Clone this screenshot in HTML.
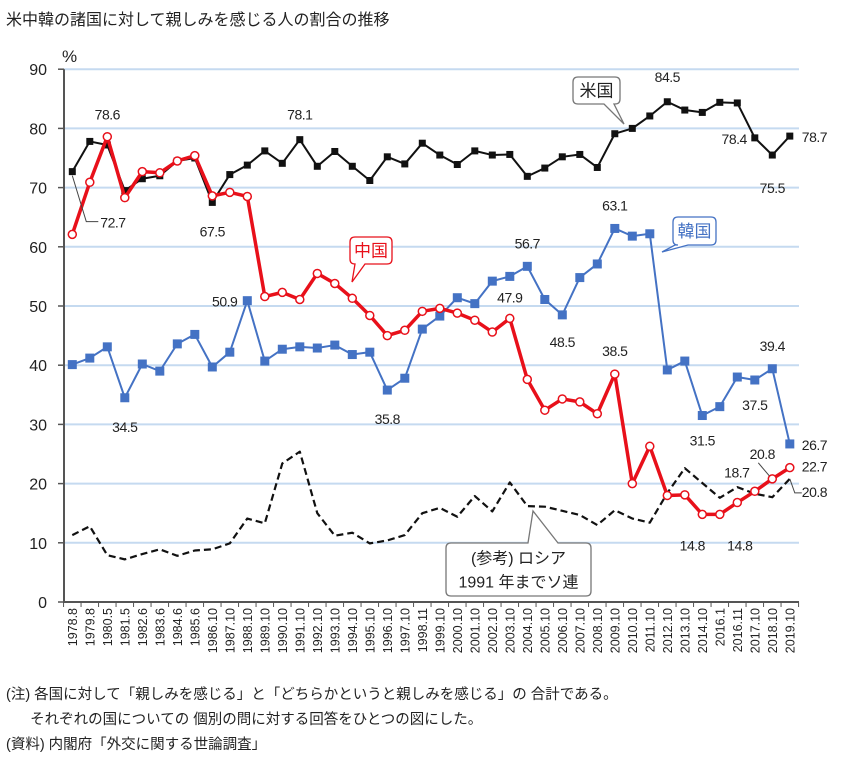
<!DOCTYPE html>
<html><head><meta charset="utf-8">
<style>
body{margin:0;background:#fff;width:862px;height:773px;overflow:hidden;font-family:"Liberation Sans","Noto Sans CJK JP",sans-serif;}
#title{position:absolute;left:6px;top:6px;font-size:16px;color:#222;}
.note{position:absolute;left:6px;font-size:14.5px;color:#222;white-space:pre;}
svg{position:absolute;left:0;top:0;}
</style></head><body>
<div id="title">米中韓の諸国に対して親しみを感じる人の割合の推移</div>
<svg id="chart" width="862" height="773"></svg>
<div class="note" style="top:683px">(注) 各国に対して「親しみを感じる」と「どちらかというと親しみを感じる」の 合計である。</div>
<div class="note" style="top:708px">      それぞれの国についての 個別の問に対する回答をひとつの図にした。</div>
<div class="note" style="top:733px">(資料) 内閣府「外交に関する世論調査」</div>
<script>
const categories=["1978.8","1979.8","1980.5","1981.5","1982.6","1983.6","1984.6","1985.6","1986.10","1987.10","1988.10","1989.10","1990.10","1991.10","1992.10","1993.10","1994.10","1995.10","1996.10","1997.10","1998.11","1999.10","2000.10","2001.10","2002.10","2003.10","2004.10","2005.10","2006.10","2007.10","2008.10","2009.10","2010.10","2011.10","2012.10","2013.10","2014.10","2016.1","2016.11","2017.10","2018.10","2019.10"];
const usValues=[72.7,77.8,77.2,69.5,71.5,72.0,74.5,75.0,67.5,72.2,73.8,76.2,74.1,78.1,73.6,76.1,73.6,71.2,75.2,74.0,77.5,75.5,73.9,76.2,75.5,75.6,71.9,73.3,75.2,75.6,73.4,79.1,80.0,82.1,84.5,83.1,82.7,84.4,84.3,78.4,75.5,78.7];
const chinaValues=[62.1,70.9,78.6,68.3,72.7,72.5,74.5,75.4,68.6,69.2,68.5,51.6,52.3,51.1,55.5,53.8,51.3,48.4,45.0,45.9,49.1,49.6,48.8,47.6,45.6,47.9,37.6,32.4,34.3,33.8,31.8,38.5,20.0,26.3,18.0,18.1,14.8,14.8,16.8,18.7,20.8,22.7];
const koreaValues=[40.1,41.2,43.1,34.5,40.2,39.0,43.6,45.2,39.7,42.2,50.9,40.7,42.7,43.1,42.9,43.4,41.8,42.2,35.8,37.8,46.1,48.3,51.4,50.4,54.2,55.0,56.7,51.1,48.5,54.8,57.1,63.1,61.8,62.2,39.2,40.7,31.5,33.0,38.0,37.5,39.4,26.7];
const russiaValues=[11.3,12.8,7.9,7.2,8.1,8.9,7.8,8.7,8.9,9.9,14.1,13.3,23.4,25.4,15.0,11.2,11.7,9.9,10.4,11.3,15.0,15.9,14.4,17.9,15.3,20.2,16.2,16.1,15.4,14.7,13.0,15.5,14.1,13.4,18.4,22.6,20.1,17.6,19.4,18.3,17.7,20.8];
const yTicks=[0,10,20,30,40,50,60,70,80,90];
// annotations: [index, dx, dy, anchor]
const usLabels=[[0,28,56,"start"],[13,0,-20,"middle"],[8,0,34,"middle"],[34,0,-20,"middle"],[39,-8,6,"end"],[40,0,38,"middle"],[41,12,6,"start"]];
const chinaLabels=[[2,0,-17,"middle"],[25,0,-16,"middle"],[31,0,-18,"middle"],[36,-10,36,"middle"],[37,20,36,"middle"],[39,-18,-14,"middle"],[40,-10,-20,"middle"],[41,12,4,"start"]];
const koreaLabels=[[3,0,34,"middle"],[10,-10,6,"end"],[18,0,34,"middle"],[26,0,-18,"middle"],[28,0,32,"middle"],[31,0,-18,"middle"],[36,0,30,"middle"],[39,0,30,"middle"],[40,0,-18,"middle"],[41,12,6,"start"]];
const russiaLabels=[[41,12,18,"start"]];

const NS="http://www.w3.org/2000/svg";
const svg=document.getElementById('chart');
const X0=72.3,DX=17.5,Y0=602,YS=5.92;
function xs(i){return X0+i*DX;}
function ys(v){return Y0-v*YS;}
function mk(tag,attrs,parent){const e=document.createElementNS(NS,tag);for(const k in attrs)e.setAttribute(k,attrs[k]);(parent||svg).appendChild(e);return e;}
yTicks.forEach(t=>{
  if(t>0){const g=mk('line',{x1:64,x2:799,y1:ys(t),y2:ys(t),stroke:'#c5daf0','stroke-width':2});
  
  }
  const tk=mk('line',{x1:58,x2:64,y1:ys(t),y2:ys(t),stroke:'#555','stroke-width':1.5});
  
  
  const tx=mk('text',{x:47,y:ys(t)+6,'text-anchor':'end','font-size':16,fill:'#222'});tx.textContent=t;
  
  
});
const pct=mk('text',{x:62,y:62,'font-size':17,fill:'#222'});pct.textContent='%';


const ya=mk('line',{x1:64,x2:64,y1:ys(90),y2:Y0+1,stroke:'#555','stroke-width':2});


const xa=mk('line',{x1:64,x2:799,y1:Y0,y2:Y0,stroke:'#555','stroke-width':2});


categories.forEach((c,i)=>{
  const tk=mk('line',{x1:xs(i)-DX/2,x2:xs(i)-DX/2,y1:Y0,y2:Y0+5,stroke:'#555','stroke-width':1});
  
  
  const t=mk('text',{x:0,y:0,'font-size':12.5,fill:'#222','text-anchor':'end',transform:`translate(${xs(i)+4.5},608) rotate(-90)`});
  t.textContent=c;
  
  
});
const lt=mk('line',{x1:xs(41)+DX/2,x2:xs(41)+DX/2,y1:Y0,y2:Y0+5,stroke:'#555'});


function pts(vals){return vals.map((v,i)=>xs(i)+','+ys(v)).join(' ');}
function series(vals,name,color,w,dash){
  const l=mk('polyline',{points:pts(vals),fill:'none',stroke:color,'stroke-width':w,'stroke-linejoin':'round'});
  if(dash)l.setAttribute('stroke-dasharray',dash);
  
  
}
function labels(vals,arr,name){
  arr.forEach(a=>{
    const t=mk('text',{x:xs(a[0])+a[1],y:ys(vals[a[0]])+a[2],'text-anchor':a[3],'font-size':14,fill:'#222','letter-spacing':'-0.5'});
    t.textContent=vals[a[0]].toFixed(1);
    
    
  });
}
series(russiaValues,'russia','#111',2.2,'7,4');
series(koreaValues,'korea','#4472c4',2);
koreaValues.forEach((v,i)=>{const r=mk('rect',{x:xs(i)-4.5,y:ys(v)-4.5,width:9,height:9,fill:'#4472c4'});
  
  });
series(usValues,'us','#111',2);
usValues.forEach((v,i)=>{const r=mk('rect',{x:xs(i)-3.5,y:ys(v)-3.5,width:7,height:7,fill:'#111'});
  
  });
series(chinaValues,'china','#e8101a',3.5);
chinaValues.forEach((v,i)=>{const c=mk('circle',{cx:xs(i),cy:ys(v),r:4,fill:'#fff',stroke:'#e8101a','stroke-width':1.5});
  
  });
const l1=mk('polyline',{points:`${xs(0)},${ys(usValues[0])+4} ${xs(0)+14},${ys(usValues[0])+50} ${xs(0)+26},${ys(usValues[0])+50}`,fill:'none',stroke:'#444'});


const l2=mk('line',{x1:xs(40)-3,y1:ys(chinaValues[40])-3,x2:xs(40)-14,y2:ys(chinaValues[40])-16,stroke:'#444'});


const l3=mk('polyline',{points:`${xs(41)},${ys(russiaValues[41])} ${xs(41)+5},${ys(russiaValues[41])+14} ${xs(41)+12},${ys(russiaValues[41])+14}`,fill:'none',stroke:'#444'});


labels(usValues,usLabels,'us');
labels(chinaValues,chinaLabels,'china');
labels(koreaValues,koreaLabels,'korea');
labels(russiaValues,russiaLabels,'russia');
function callout(x,y,w,h,px,py,b1,b2,side,color,txt,name,fs){
  let p;
  if(side==='b'){
    p=`M${x+5},${y} H${x+w-5} Q${x+w},${y} ${x+w},${y+5} V${y+h-5} Q${x+w},${y+h} ${x+w-5},${y+h} H${b2} L${px},${py} L${b1},${y+h} H${x+5} Q${x},${y+h} ${x},${y+h-5} V${y+5} Q${x},${y} ${x+5},${y} Z`;
  }else{
    p=`M${x+5},${y} H${b1} L${px},${py} L${b2},${y} H${x+w-5} Q${x+w},${y} ${x+w},${y+5} V${y+h-5} Q${x+w},${y+h} ${x+w-5},${y+h} H${x+5} Q${x},${y+h} ${x},${y+h-5} V${y+5} Q${x},${y} ${x+5},${y} Z`;
  }
  const e=mk('path',{d:p,fill:'#fff',stroke:color,'stroke-width':1.3});
  
  
  txt.forEach((t,k)=>{const tx=mk('text',{x:x+w/2,y:y+h/2+6-(txt.length-1)*12+k*24,'text-anchor':'middle','font-size':fs,fill:color==='#777'?'#222':color});
    tx.textContent=t;
    
    });
}
callout(573,77,47,27,624,124,604,614,'b','#777',['米国'],'us',17);
callout(350,237,42,27,352,282,355,365,'b','#e8101a',['中国'],'china',17);
callout(673,217,43,28,662,252,675,688,'b','#4472c4',['韓国'],'korea',17);
callout(446,543,145,53,533,511,528,558,'t','#777',['(参考) ロシア','1991 年までソ連'],'russia',16);
</script>
</body></html>
